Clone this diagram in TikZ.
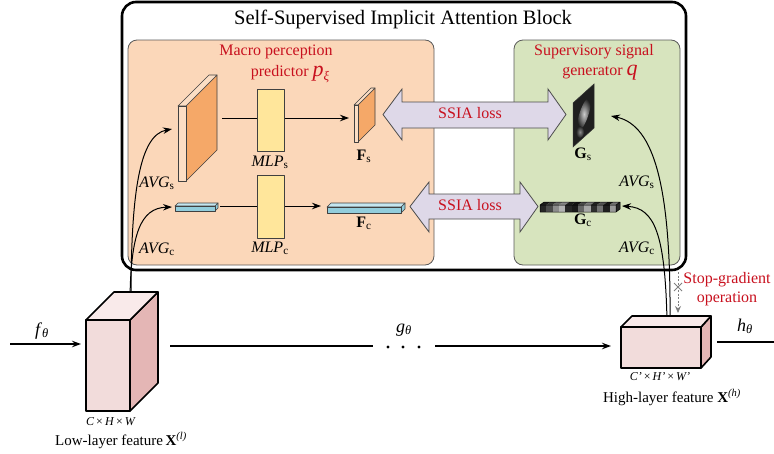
\documentclass[tikz,border=0pt]{standalone}
\usepackage{fontspec}
\setmainfont{Liberation Serif}
\usetikzlibrary{arrows.meta}
\definecolor{redtxt}{RGB}{200,16,30}
\definecolor{panelorange}{RGB}{251,215,185}
\definecolor{panelgreen}{RGB}{215,228,190}
\definecolor{panelline}{RGB}{90,90,90}
\definecolor{slaborange}{RGB}{245,168,104}
\definecolor{slablight}{RGB}{252,222,196}
\definecolor{mlpyellow}{RGB}{255,230,155}
\definecolor{barcyan}{RGB}{146,205,220}
\definecolor{barcyanlight}{RGB}{196,230,240}
\definecolor{cubefront}{RGB}{242,220,219}
\definecolor{cubeside}{RGB}{228,182,181}
\definecolor{cubetop}{RGB}{249,234,234}
\definecolor{lavender}{RGB}{222,216,232}
\begin{document}
\begin{tikzpicture}[x=1pt,y=-1pt,
  lbl/.style={inner sep=0pt, anchor=base, font=\fontsize{16}{18}\selectfont},
  redlbl/.style={lbl, text=redtxt},
  conn/.style={line width=1pt, -{Stealth[length=9pt,width=6.5pt]}},
  panelbox/.style={draw=panelline, line width=0.8pt, rounded corners=9pt},
  cubeline/.style={draw=black, line width=1.6pt, line join=round},
  thinline/.style={draw=black!75, line width=0.6pt, line join=round},
  ssiaarrow/.style={draw=black!70, fill=lavender, line width=0.8pt, line join=miter}
]
\useasboundingbox (0,0) rectangle (774,453);

% ---------- panels ----------
\draw[panelbox, fill=panelorange] (128,40) rectangle (434,265);
\draw[panelbox, fill=panelgreen] (514,40) rectangle (680,265);
\draw[line width=2.6pt, rounded corners=14pt] (122,2) rectangle (686,270);

\node[lbl, font=\fontsize{20.5}{22}\selectfont] (title) at (403,24) {Self-Supervised Implicit Attention Block};

\node[redlbl] (macro1) at (276,55) {Macro perception};
\node[redlbl] (macro2) at (290,76) {predictor {\fontsize{22}{22}\selectfont\textit{p}}\raisebox{-4pt}{\fontsize{13}{13}\selectfont\textit{ξ}}};
\node[redlbl] (sup1) at (594,55) {Supervisory signal};
\node[redlbl] (sup2) at (600,75) {generator {\fontsize{22}{22}\selectfont\textit{q}}};

% ---------- named coordinates for connectors ----------
\coordinate (lowtop1) at (131,298);
\coordinate (lowtop2) at (130,298);
\coordinate (avgsin) at (172,129);
\coordinate (avgcin) at (172,207);
\coordinate (hightop1) at (670,320);
\coordinate (hightop2) at (667,320);
\coordinate (gsin) at (611,116);
\coordinate (gcin) at (622,206);
\coordinate (slabout) at (222,118);
\coordinate (fsin) at (349,118);
\coordinate (barout) at (220,206);
\coordinate (fcin) at (321,206);
\coordinate (fin) at (10,344);
\coordinate (lowin) at (81,344);
\coordinate (lowout) at (170,346);
\coordinate (dotsl) at (373,346);
\coordinate (dotsr) at (435,346);
\coordinate (highin) at (611,346);
\coordinate (highout) at (717,342);
\coordinate (hend) at (774,342);
\coordinate (sgtop) at (678,272);
\coordinate (sgbot) at (678,313);

% ---------- curves (AVG) ----------
\draw[conn] (lowtop1) .. controls (131,190) and (140,135) .. (avgsin);
\draw[conn] (lowtop2) .. controls (131,235) and (140,208) .. (avgcin);
\draw[conn] (hightop1) .. controls (671,190) and (655,125) .. (gsin);
\draw[conn] (hightop2) .. controls (665,235) and (655,208) .. (gcin);

\node[lbl] (avgsl) at (157,187) {\textit{AVG}\textsubscript{s}};
\node[lbl] (avgcl) at (157,253) {\textit{AVG}\textsubscript{c}};
\node[lbl] (avgsr) at (637,186) {\textit{AVG}\textsubscript{s}};
\node[lbl] (avgcr) at (637,252) {\textit{AVG}\textsubscript{c}};

% ---------- flow lines inside predictor ----------
\draw[conn] (slabout) -- (fsin);
\draw[conn] (barout) -- (fcin);

% MLP boxes
\draw[thinline, fill=mlpyellow] (257,89) rectangle (284,151);
\draw[thinline, fill=mlpyellow] (257,175) rectangle (284,238);
\node[lbl] (mlps) at (270,166) {\textit{MLP}\textsubscript{s}};
\node[lbl] (mlpc) at (270,252) {\textit{MLP}\textsubscript{c}};

% AVG_s slab
\draw[thinline, fill=slaborange] (186,106) -- (217,75) -- (217,150) -- (186,181) -- cycle;
\draw[thinline, fill=slablight] (178,106) -- (209,75) -- (217,75) -- (186,106) -- cycle;
\draw[thinline, fill=slablight] (178,106) rectangle (186,181);

% AVG_c bar
\draw[thinline, fill=barcyan] (215,206) -- (218,203) -- (218,208) -- (215,211) -- cycle;
\draw[thinline, fill=barcyanlight] (175,206) -- (178,203) -- (218,203) -- (215,206) -- cycle;
\draw[thinline, fill=barcyan] (175,206) rectangle (215,211);

% F_s slab
\draw[thinline, fill=slaborange] (358,105) -- (375,88) -- (375,125) -- (358,142) -- cycle;
\draw[thinline, fill=slablight] (354,105) -- (371,88) -- (375,88) -- (358,105) -- cycle;
\draw[thinline, fill=slablight] (354,105) rectangle (358,142);
\node[lbl] (fs) at (364,160) {\textbf{F}\textsubscript{s}};

% F_c bar
\draw[thinline, fill=barcyan] (401,207) -- (405,203) -- (405,209) -- (401,213) -- cycle;
\draw[thinline, fill=barcyanlight] (327,207) -- (331,203) -- (405,203) -- (401,207) -- cycle;
\draw[thinline, fill=barcyan] (327,207) rectangle (401,213);
\node[lbl] (fc) at (364,227) {\textbf{F}\textsubscript{c}};

% ---------- SSIA loss arrows ----------
\draw[ssiaarrow] (383,114.5) -- (402,89) -- (402,102) -- (548,102) -- (548,89) -- (566,114.5)
  -- (548,140) -- (548,128) -- (402,128) -- (402,140) -- cycle;
\node[redlbl] (ssia1) at (470,118.5) {SSIA loss};
\draw[ssiaarrow] (410,206.5) -- (429,182) -- (429,194) -- (520,194) -- (520,182) -- (538,206.5)
  -- (520,232) -- (520,219) -- (429,219) -- (429,232) -- cycle;
\node[redlbl] (ssia2) at (470,210.5) {SSIA loss};

% ---------- G_s ----------
\begin{scope}
  \clip (573,103) -- (594,84) -- (594,128) -- (573,147) -- cycle;
  \fill[black!88] (568,80) rectangle (598,150);
  \shade[inner color=black!20, outer color=black!88, rotate around={72:(584,114)}] (584,114) ellipse (17pt and 4.5pt);
  \shade[inner color=black!45, outer color=black!88] (580,132) ellipse (4pt and 6pt);
\end{scope}
\draw[black!80, line width=0.5pt] (573,103) -- (594,84) -- (594,128) -- (573,147) -- cycle;
\node[lbl] (gs) at (583,158) {\textbf{G}\textsubscript{s}};

% ---------- G_c ----------
\foreach \i/\g in {0/85,1/70,2/45,3/30,4/85,5/90,6/60,7/35,8/82,9/55,10/88,11/40} {
  \fill[black!\g] ({540+\i*6.333},205) rectangle ({540+(\i+1)*6.333},212);
  \fill[black!\g!white!75!black] ({540+\i*6.333},205) -- ({544+\i*6.333},202) -- ({544+(\i+1)*6.333},202) -- ({540+(\i+1)*6.333},205) -- cycle;
}
\fill[black!85] (616,205) -- (620,202) -- (620,209) -- (616,212) -- cycle;
\draw[black, line width=0.5pt, line join=round] (540,205) rectangle (616,212)
  (540,205) -- (544,202) -- (620,202) -- (620,209) -- (616,212) (616,205) -- (620,202);
\node[lbl] (gc) at (583,224) {\textbf{G}\textsubscript{c}};

% ---------- stop gradient ----------
\draw[black!50, line width=0.9pt, dash pattern=on 2pt off 1.6pt, -{Stealth[length=7pt,width=6pt]}] (sgtop) -- (sgbot);
\draw[black!50, line width=1pt] (674,283) -- (682,291) (674,291) -- (682,283);
\node[redlbl] (sg1) at (727,283) {Stop-gradient};
\node[redlbl] (sg2) at (727,302) {operation};

% ---------- bottom flow ----------
\draw[conn, line width=1.3pt] (fin) -- (lowin);
\node[lbl, font=\fontsize{18}{18}\selectfont] (fth) at (42,335) {\textit{f}\textsubscript{\textit{θ}}};
\draw[line width=1.3pt] (lowout) -- (dotsl);
\fill (388,347) circle (1.6pt) (403,347) circle (1.6pt) (419,347) circle (1.6pt);
\node[lbl, font=\fontsize{18}{18}\selectfont] (gth) at (404,332) {\textit{g}\textsubscript{\textit{θ}}};
\draw[conn, line width=1.3pt] (dotsr) -- (highin);
\draw[line width=1.3pt] (highout) -- (hend);
\node[lbl, font=\fontsize{18}{18}\selectfont] (hth) at (745,331) {\textit{h}\textsubscript{\textit{θ}}};

% low-layer cube
\draw[cubeline, fill=cubeside] (130,320) -- (158,292) -- (158,383) -- (130,411) -- cycle;
\draw[cubeline, fill=cubetop] (86,320) -- (114,292) -- (158,292) -- (130,320) -- cycle;
\draw[cubeline, fill=cubefront] (86,320) rectangle (130,411);
\node[lbl, font=\fontsize{12}{12}\selectfont] (lowdim) at (111,425) {\textit{C}\,×\,\textit{H}\,×\,\textit{W}};
\node[lbl, font=\fontsize{15}{16}\selectfont] (lowlbl) at (121,445) {Low-layer feature\,\textbf{X}\textsuperscript{\textit{(l)}}};

% high-layer cube
\draw[cubeline, fill=cubeside] (701,327) -- (711,316) -- (711,357) -- (701,368) -- cycle;
\draw[cubeline, fill=cubetop] (621,327) -- (632,316) -- (711,316) -- (701,327) -- cycle;
\draw[cubeline, fill=cubefront] (621,327) rectangle (701,368);
\node[lbl, font=\fontsize{12}{12}\selectfont] (highdim) at (660,380) {\textit{C'}\,×\,\textit{H'}\,×\,\textit{W'}};
\node[lbl, font=\fontsize{15}{16}\selectfont] (highlbl) at (672,402) {High-layer feature \textbf{X}\textsuperscript{\textit{(h)}}};
\end{tikzpicture}
\end{document}
